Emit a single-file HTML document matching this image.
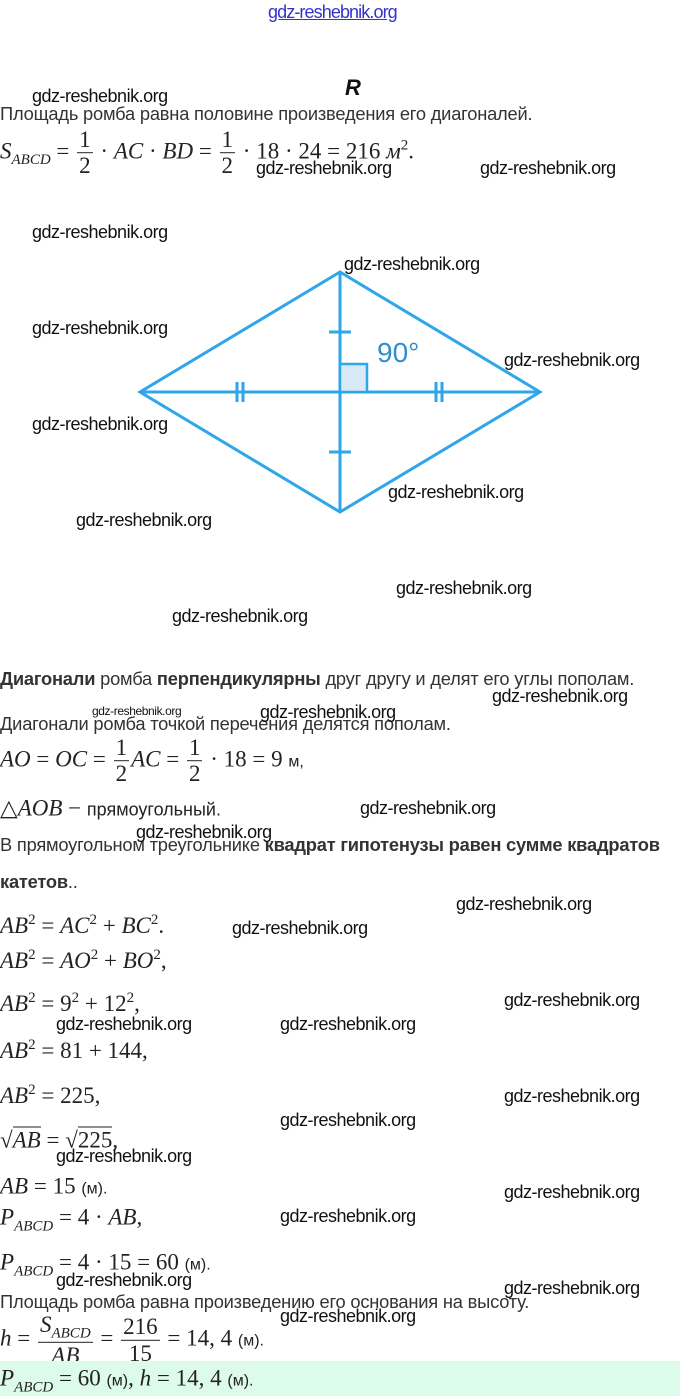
<!DOCTYPE html>
<html><head><meta charset="utf-8"><style>
body{margin:0;width:680px;height:1396px;background:#fff;position:relative;overflow:hidden;font-family:"Liberation Sans",sans-serif;color:#333}
.a{position:absolute;transform:translateY(-50%);white-space:nowrap;line-height:1}
.w{font-size:18px;color:#111;letter-spacing:-0.5px}
.t{font-size:18.3px;left:0;letter-spacing:-0.2px}
.m{font-family:"Liberation Serif",serif;font-size:23px;left:0;color:#222}
.m i{font-style:italic}
.f{display:inline-block;vertical-align:middle;text-align:center;line-height:1.1;margin:0 2px}
.f span{display:block}
.f span:first-child{border-bottom:1px solid #222;padding:0 2px}
sub{font-size:15px;font-style:italic}
sup{font-size:15px}
.u{font-family:"Liberation Sans",sans-serif;font-size:16px}
</style></head><body>
<div class="a" style="left:268px;top:12px;font-size:18px;color:#3333cc;text-decoration:underline;letter-spacing:-0.9px">gdz-reshebnik.org</div>
<div class="a" style="left:345px;top:88px;font-size:22px;font-weight:bold;font-style:italic;color:#111">R</div>
<div class="a t" style="top:114px">Площадь ромба равна половине произведения его диагоналей.</div>
<div class="a m" style="top:153px"><i>S</i><sub>ABCD</sub> = <span class="f"><span>1</span><span>2</span></span> · <i>AC</i> · <i>BD</i> = <span class="f"><span>1</span><span>2</span></span> · 18 · 24 = 216 <i>м</i><sup>2</sup>.</div>

<svg style="position:absolute;left:0;top:0" width="680" height="640">
<g stroke="#2ea6e8" stroke-width="3" fill="none">
<polygon points="140,392 340,272 540,392 340,512"/>
<line x1="140" y1="392" x2="540" y2="392"/>
<line x1="340" y1="272" x2="340" y2="512"/>
<line x1="329" y1="332" x2="351" y2="332"/>
<line x1="329" y1="452" x2="351" y2="452"/>
<line x1="237" y1="382" x2="237" y2="402"/><line x1="243" y1="382" x2="243" y2="402"/>
<line x1="436" y1="382" x2="436" y2="402"/><line x1="442" y1="382" x2="442" y2="402"/>
<rect x="340" y="364" width="27" height="28" fill="#d8eaf6" stroke-width="2.5"/>
</g>
<text x="377" y="362" font-family="Liberation Sans" font-size="28" fill="#2e8fd0">90°</text>
</svg>

<div class="a t" style="top:679px"><b>Диагонали</b> ромба <b>перпендикулярны</b> друг другу и делят его углы пополам.</div>
<div class="a t" style="top:724px">Диагонали ромба точкой перечения делятся пополам.</div>
<div class="a m" style="top:761px"><i>AO</i> = <i>OC</i> = <span class="f"><span>1</span><span>2</span></span><i>AC</i> = <span class="f"><span>1</span><span>2</span></span> · 18 = 9 <span class="u">м,</span></div>
<div class="a m" style="top:808px">△<i>AOB</i> − <span class="u" style="font-size:18px">прямоугольный.</span></div>
<div class="a t" style="top:845px">В прямоугольном треугольнике <b>квадрат гипотенузы равен сумме квадратов</b></div>
<div class="a t" style="top:882px"><b>катетов</b>..</div>
<div class="a m" style="top:925px"><i>AB</i><sup>2</sup> = <i>AC</i><sup>2</sup> + <i>BC</i><sup>2</sup>.</div>
<div class="a m" style="top:960px"><i>AB</i><sup>2</sup> = <i>AO</i><sup>2</sup> + <i>BO</i><sup>2</sup>,</div>
<div class="a m" style="top:1003px"><i>AB</i><sup>2</sup> = 9<sup>2</sup> + 12<sup>2</sup>,</div>
<div class="a m" style="top:1050px"><i>AB</i><sup>2</sup> = 81 + 144,</div>
<div class="a m" style="top:1095px"><i>AB</i><sup>2</sup> = 225,</div>
<div class="a m" style="top:1140px">√<span style="border-top:1px solid #222"><i>AB</i></span> = √<span style="border-top:1px solid #222">225</span>,</div>
<div class="a m" style="top:1186px"><i>AB</i> = 15 <span class="u">(м).</span></div>
<div class="a m" style="top:1220px"><i>P</i><sub>ABCD</sub> = 4 · <i>AB</i>,</div>
<div class="a m" style="top:1265px"><i>P</i><sub>ABCD</sub> = 4 · 15 = 60 <span class="u">(м).</span></div>
<div class="a t" style="top:1302px">Площадь ромба равна произведению его основания на высоту.</div>
<div class="a m" style="top:1340px"><i>h</i> = <span class="f"><span><i>S</i><sub>ABCD</sub></span><span><i>AB</i></span></span> = <span class="f"><span>216</span><span>15</span></span> = 14, 4 <span class="u">(м).</span></div>
<div style="position:absolute;left:0;top:1361px;width:680px;height:35px;background:#dcfbe8"></div>
<div class="a m" style="top:1381px"><i>P</i><sub>ABCD</sub> = 60 <span class="u">(м)</span>, <i>h</i> = 14, 4 <span class="u">(м).</span></div>

<div class="a w" style="left:32px;top:96px">gdz-reshebnik.org</div>
<div class="a w" style="left:256px;top:168px">gdz-reshebnik.org</div>
<div class="a w" style="left:480px;top:168px">gdz-reshebnik.org</div>
<div class="a w" style="left:32px;top:232px">gdz-reshebnik.org</div>
<div class="a w" style="left:344px;top:264px">gdz-reshebnik.org</div>
<div class="a w" style="left:32px;top:328px">gdz-reshebnik.org</div>
<div class="a w" style="left:504px;top:360px">gdz-reshebnik.org</div>
<div class="a w" style="left:32px;top:424px">gdz-reshebnik.org</div>
<div class="a w" style="left:388px;top:492px">gdz-reshebnik.org</div>
<div class="a w" style="left:76px;top:520px">gdz-reshebnik.org</div>
<div class="a w" style="left:396px;top:588px">gdz-reshebnik.org</div>
<div class="a w" style="left:172px;top:616px">gdz-reshebnik.org</div>
<div class="a w" style="left:492px;top:696px">gdz-reshebnik.org</div>
<div class="a w" style="left:92px;top:711px;font-size:12px;letter-spacing:-0.4px">gdz-reshebnik.org</div>
<div class="a w" style="left:260px;top:712px">gdz-reshebnik.org</div>
<div class="a w" style="left:360px;top:808px">gdz-reshebnik.org</div>
<div class="a w" style="left:136px;top:832px">gdz-reshebnik.org</div>
<div class="a w" style="left:456px;top:904px">gdz-reshebnik.org</div>
<div class="a w" style="left:232px;top:928px">gdz-reshebnik.org</div>
<div class="a w" style="left:504px;top:1000px">gdz-reshebnik.org</div>
<div class="a w" style="left:56px;top:1024px">gdz-reshebnik.org</div>
<div class="a w" style="left:280px;top:1024px">gdz-reshebnik.org</div>
<div class="a w" style="left:504px;top:1096px">gdz-reshebnik.org</div>
<div class="a w" style="left:280px;top:1120px">gdz-reshebnik.org</div>
<div class="a w" style="left:56px;top:1156px">gdz-reshebnik.org</div>
<div class="a w" style="left:504px;top:1192px">gdz-reshebnik.org</div>
<div class="a w" style="left:280px;top:1216px">gdz-reshebnik.org</div>
<div class="a w" style="left:56px;top:1280px">gdz-reshebnik.org</div>
<div class="a w" style="left:504px;top:1288px">gdz-reshebnik.org</div>
<div class="a w" style="left:280px;top:1316px">gdz-reshebnik.org</div>
</body></html>
